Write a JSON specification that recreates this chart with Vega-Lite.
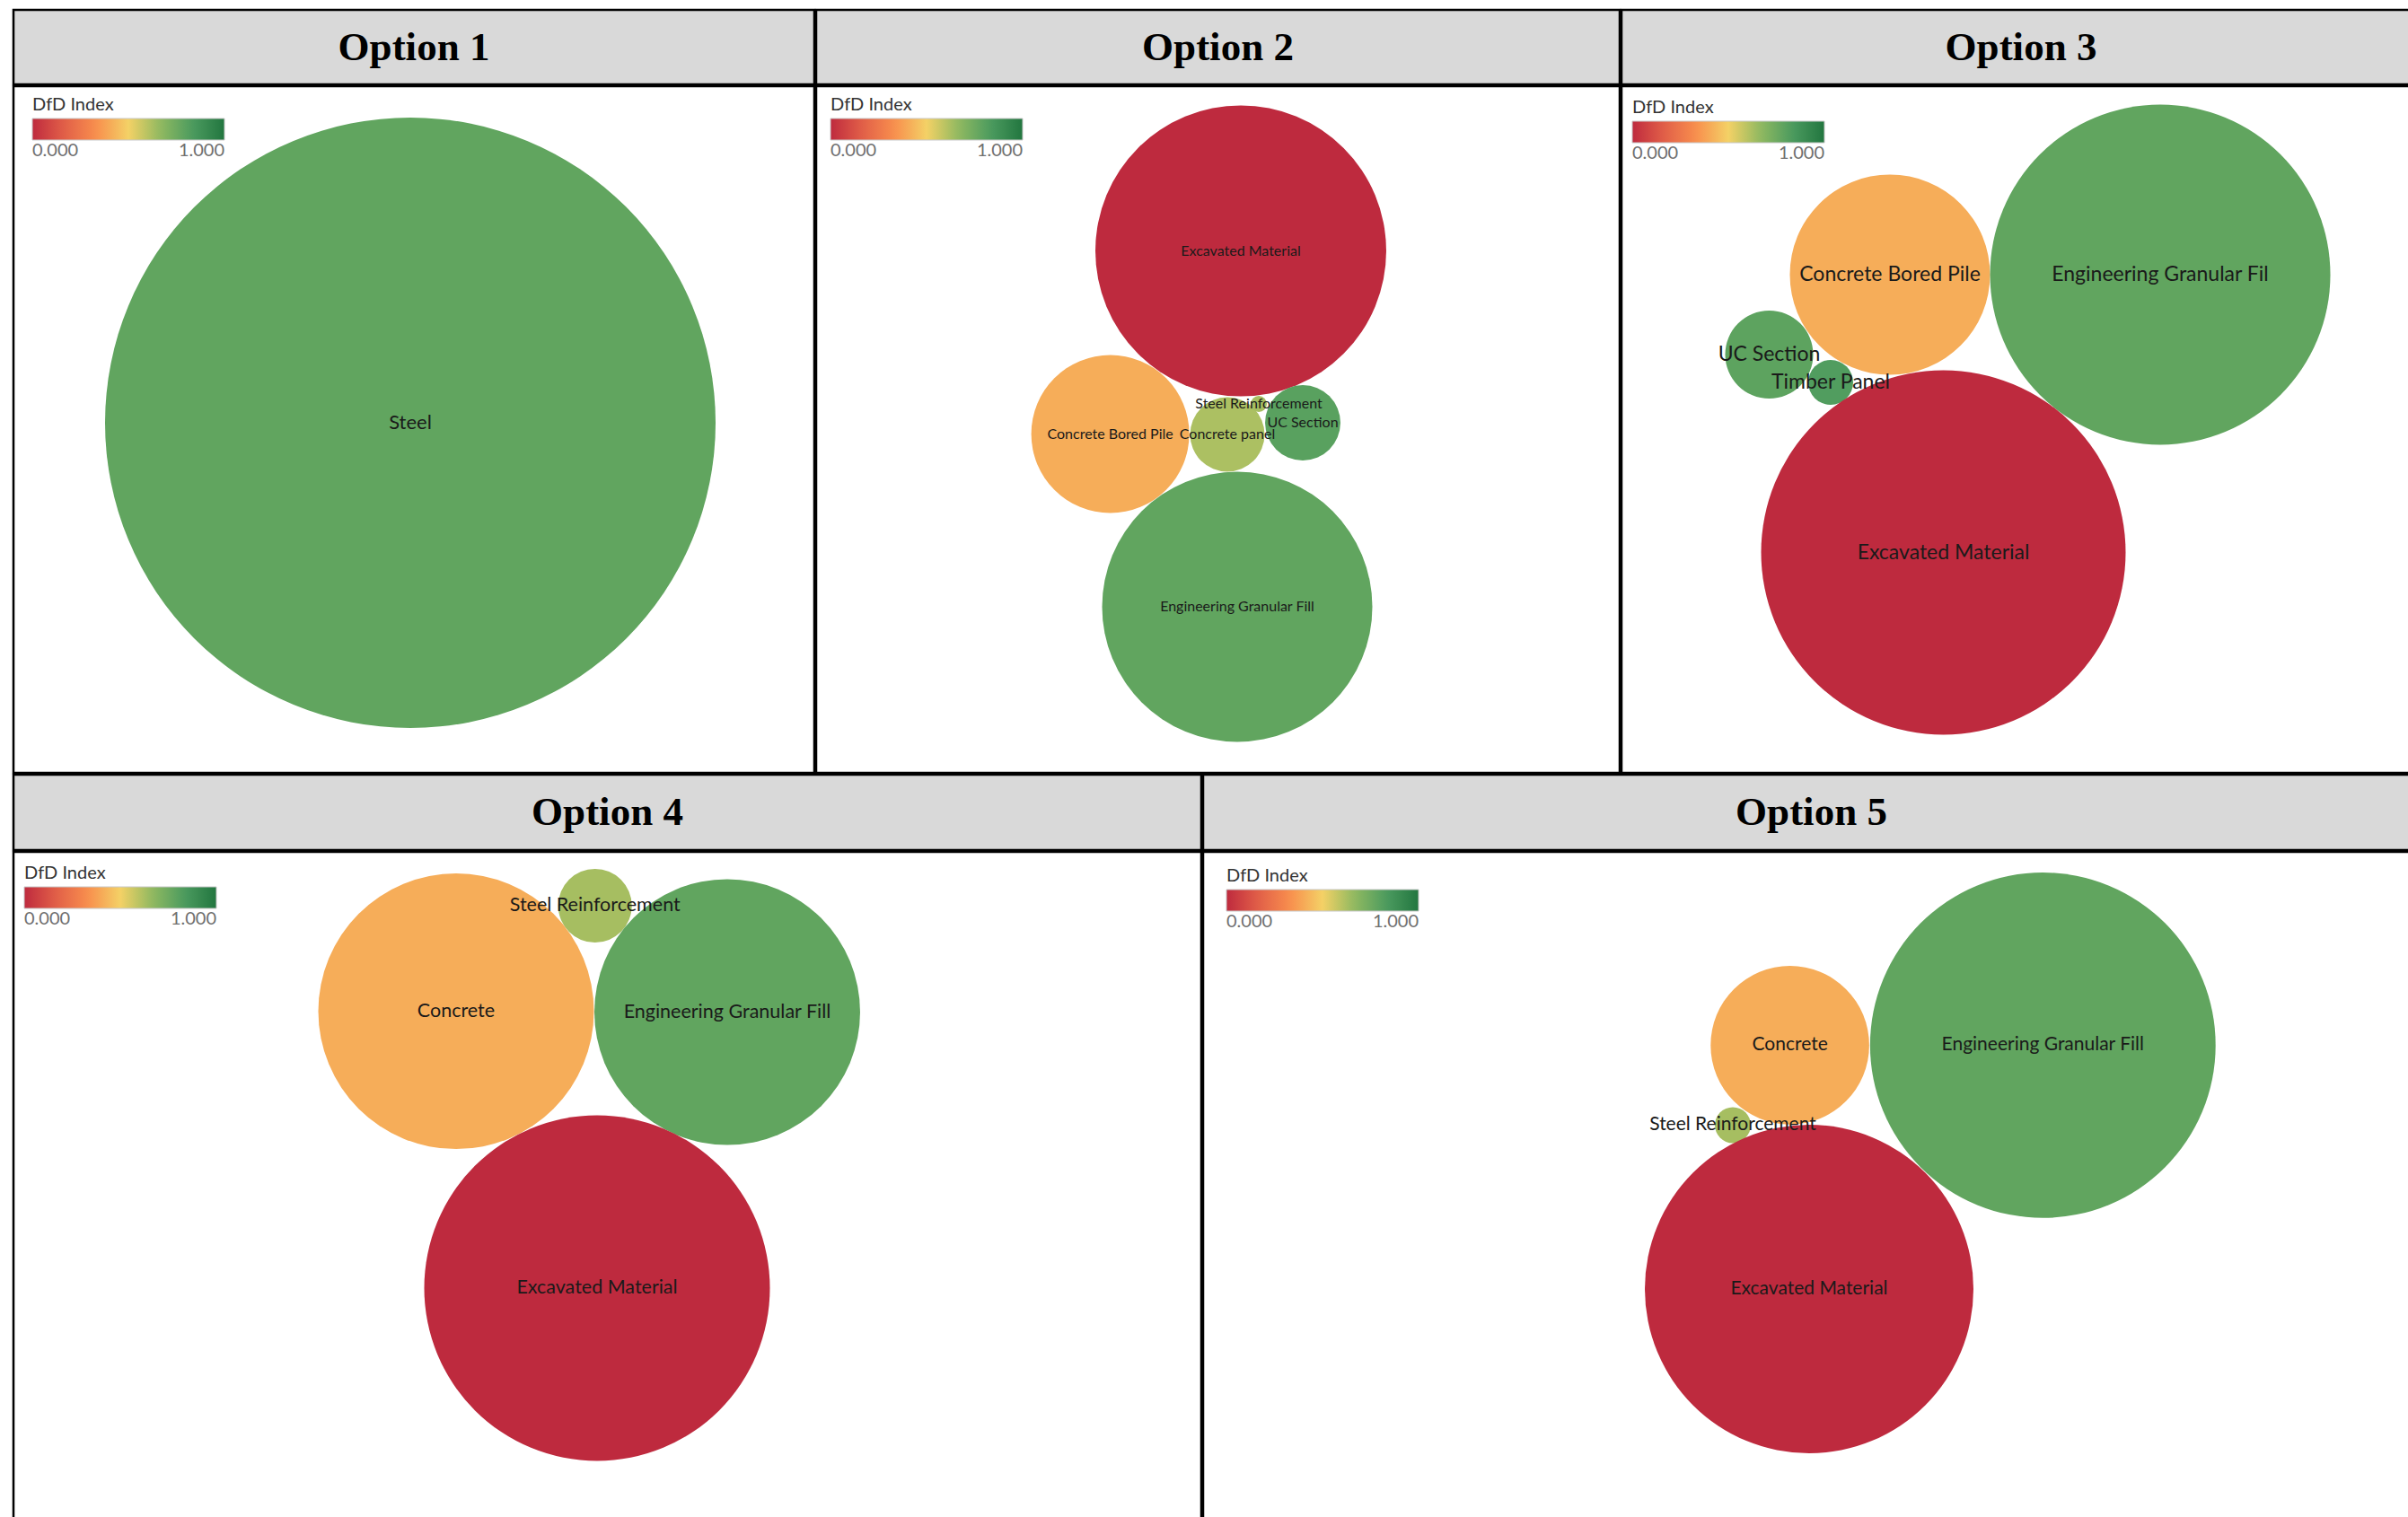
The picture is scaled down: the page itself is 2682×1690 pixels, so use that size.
{
  "$schema": "https://vega.github.io/schema/vega-lite/v6.json",
  "padding": {"left": 13, "top": 9, "right": 0, "bottom": 0},
  "background": "white",
  "datasets": {
    "bubbles": [
      {"option": "Option 1", "material": "Steel", "cx": 442, "cy": 375, "value": 1156, "dfd": 0.78},

      {"option": "Option 2", "material": "Excavated Material", "cx": 473, "cy": 183.5, "value": 262.4, "dfd": 0.0},
      {"option": "Option 2", "material": "Concrete Bored Pile", "cx": 327.6, "cy": 387.5, "value": 77.4, "dfd": 0.41},
      {"option": "Option 2", "material": "Concrete panel", "cx": 458, "cy": 388, "value": 17.2, "dfd": 0.62},
      {"option": "Option 2", "material": "Steel Reinforcement", "cx": 493, "cy": 354, "value": 0.81, "dfd": 0.63},
      {"option": "Option 2", "material": "UC Section", "cx": 542, "cy": 375, "value": 17.6, "dfd": 0.8},
      {"option": "Option 2", "material": "Engineering Granular Fill", "cx": 469, "cy": 580, "value": 226.5, "dfd": 0.78},

      {"option": "Option 3", "material": "Concrete Bored Pile", "cx": 299, "cy": 210, "value": 124.3, "dfd": 0.41},
      {"option": "Option 3", "material": "Engineering Granular Fil", "cx": 600, "cy": 210, "value": 359.1, "dfd": 0.78},
      {"option": "Option 3", "material": "UC Section", "cx": 164.5, "cy": 299, "value": 24.0, "dfd": 0.79},
      {"option": "Option 3", "material": "Timber Panel", "cx": 233, "cy": 330, "value": 6.25, "dfd": 0.82},
      {"option": "Option 3", "material": "Excavated Material", "cx": 358.5, "cy": 519.5, "value": 412.1, "dfd": 0.0},

      {"option": "Option 4", "material": "Steel Reinforcement", "cx": 647.7, "cy": 60, "value": 16.8, "dfd": 0.63},
      {"option": "Option 4", "material": "Concrete", "cx": 493, "cy": 177.6, "value": 235.6, "dfd": 0.41},
      {"option": "Option 4", "material": "Engineering Granular Fill", "cx": 795, "cy": 178.5, "value": 219.0, "dfd": 0.78},
      {"option": "Option 4", "material": "Excavated Material", "cx": 650, "cy": 486, "value": 370.6, "dfd": 0.0},

      {"option": "Option 5", "material": "Concrete", "cx": 653.6, "cy": 215.4, "value": 78.0, "dfd": 0.41},
      {"option": "Option 5", "material": "Engineering Granular Fill", "cx": 935.3, "cy": 215.4, "value": 370.2, "dfd": 0.78},
      {"option": "Option 5", "material": "Steel Reinforcement", "cx": 590, "cy": 304.4, "value": 4.0, "dfd": 0.63},
      {"option": "Option 5", "material": "Excavated Material", "cx": 675, "cy": 487, "value": 334.9, "dfd": 0.0}
    ]
  },
  "spacing": -4,
  "resolve": {"scale": {"color": "independent", "size": "independent"}, "legend": {"color": "independent", "size": "independent"}},
  "vconcat": [
    {
      "spacing": -4,
      "resolve": {"scale": {"color": "independent", "size": "independent"}, "legend": {"color": "independent", "size": "independent"}},
      "hconcat": [
        {
          "spacing": -4,
          "resolve": {"scale": {"color": "independent", "size": "independent"}, "legend": {"color": "independent"}},
          "vconcat": [
            {
              "width": 892, "height": 83,
              "view": {"fill": "#d9d9d9", "stroke": "#000000", "strokeWidth": 2.5},
              "data": {"values": [{"option": "Option 1"}]},
              "mark": {"type": "text", "font": "Liberation Serif", "fontWeight": "bold", "fontSize": 45, "color": "#000000", "baseline": "middle"},
              "encoding": {"text": {"field": "option"}}
            },
            {
              "width": 892, "height": 765,
              "view": {"stroke": "#000000", "strokeWidth": 2.5},
              "data": {"name": "bubbles"},
              "transform": [{"filter": "datum.option === 'Option 1'"}],
              "encoding": {
                "x": {"field": "cx", "type": "quantitative", "scale": {"domain": [0, 892], "nice": false, "zero": false}, "axis": null},
                "y": {"field": "cy", "type": "quantitative", "scale": {"domain": [0, 765], "nice": false, "zero": false, "reverse": true}, "axis": null}
              },
              "layer": [
                {
                  "mark": {"type": "point", "shape": "circle", "filled": true, "opacity": 1, "strokeWidth": 0},
                  "encoding": {
                    "size": {"field": "value", "type": "quantitative", "scale": {"type": "linear", "domain": [0, 1200], "range": [0, 480000], "zero": true}, "legend": null},
                    "color": {"field": "dfd", "type": "quantitative",
                      "scale": {"domain": [0, 0.1667, 0.3333, 0.5, 0.6667, 0.8333, 1], "range": ["#be2a3e", "#e25f48", "#f88f4d", "#f4d166", "#90b960", "#4b9b5f", "#22763f"], "interpolate": "rgb"},
                      "legend": {"orient": "none", "legendX": 21, "legendY": 11, "direction": "horizontal", "title": "DfD Index", "values": [0, 1], "format": ".3f"}}
                  }
                },
                {
                  "mark": {"type": "text", "font": "Lato", "fontSize": 22, "color": "#1a1a1a", "align": "center", "baseline": "middle"},
                  "encoding": {"text": {"field": "material"}}
                }
              ]
            }
          ]
        },
        {
          "spacing": -4,
          "resolve": {"scale": {"color": "independent", "size": "independent"}, "legend": {"color": "independent"}},
          "vconcat": [
            {
              "width": 895, "height": 83,
              "view": {"fill": "#d9d9d9", "stroke": "#000000", "strokeWidth": 2.5},
              "data": {"values": [{"option": "Option 2"}]},
              "mark": {"type": "text", "font": "Liberation Serif", "fontWeight": "bold", "fontSize": 45, "color": "#000000", "baseline": "middle"},
              "encoding": {"text": {"field": "option"}}
            },
            {
              "width": 895, "height": 765,
              "view": {"stroke": "#000000", "strokeWidth": 2.5},
              "data": {"name": "bubbles"},
              "transform": [{"filter": "datum.option === 'Option 2'"}],
              "encoding": {
                "x": {"field": "cx", "type": "quantitative", "scale": {"domain": [0, 895], "nice": false, "zero": false}, "axis": null},
                "y": {"field": "cy", "type": "quantitative", "scale": {"domain": [0, 765], "nice": false, "zero": false, "reverse": true}, "axis": null}
              },
              "layer": [
                {
                  "mark": {"type": "point", "shape": "circle", "filled": true, "opacity": 1, "strokeWidth": 0},
                  "encoding": {
                    "size": {"field": "value", "type": "quantitative", "scale": {"type": "linear", "domain": [0, 1200], "range": [0, 480000], "zero": true}, "legend": null},
                    "color": {"field": "dfd", "type": "quantitative",
                      "scale": {"domain": [0, 0.1667, 0.3333, 0.5, 0.6667, 0.8333, 1], "range": ["#be2a3e", "#e25f48", "#f88f4d", "#f4d166", "#90b960", "#4b9b5f", "#22763f"], "interpolate": "rgb"},
                      "legend": {"orient": "none", "legendX": 16, "legendY": 11, "direction": "horizontal", "title": "DfD Index", "values": [0, 1], "format": ".3f"}}
                  }
                },
                {
                  "mark": {"type": "text", "font": "Lato", "fontSize": 16, "color": "#1a1a1a", "align": "center", "baseline": "middle"},
                  "encoding": {"text": {"field": "material"}}
                }
              ]
            }
          ]
        },
        {
          "spacing": -4,
          "resolve": {"scale": {"color": "independent", "size": "independent"}, "legend": {"color": "independent"}},
          "vconcat": [
            {
              "width": 890, "height": 83,
              "view": {"fill": "#d9d9d9", "stroke": "#000000", "strokeWidth": 2.5},
              "data": {"values": [{"option": "Option 3"}]},
              "mark": {"type": "text", "font": "Liberation Serif", "fontWeight": "bold", "fontSize": 45, "color": "#000000", "baseline": "middle"},
              "encoding": {"text": {"field": "option"}}
            },
            {
              "width": 890, "height": 765,
              "view": {"stroke": "#000000", "strokeWidth": 2.5},
              "data": {"name": "bubbles"},
              "transform": [{"filter": "datum.option === 'Option 3'"}],
              "encoding": {
                "x": {"field": "cx", "type": "quantitative", "scale": {"domain": [0, 890], "nice": false, "zero": false}, "axis": null},
                "y": {"field": "cy", "type": "quantitative", "scale": {"domain": [0, 765], "nice": false, "zero": false, "reverse": true}, "axis": null}
              },
              "layer": [
                {
                  "mark": {"type": "point", "shape": "circle", "filled": true, "opacity": 1, "strokeWidth": 0},
                  "encoding": {
                    "size": {"field": "value", "type": "quantitative", "scale": {"type": "linear", "domain": [0, 1200], "range": [0, 480000], "zero": true}, "legend": null},
                    "color": {"field": "dfd", "type": "quantitative",
                      "scale": {"domain": [0, 0.1667, 0.3333, 0.5, 0.6667, 0.8333, 1], "range": ["#be2a3e", "#e25f48", "#f88f4d", "#f4d166", "#90b960", "#4b9b5f", "#22763f"], "interpolate": "rgb"},
                      "legend": {"orient": "none", "legendX": 12, "legendY": 14, "direction": "horizontal", "title": "DfD Index", "values": [0, 1], "format": ".3f"}}
                  }
                },
                {
                  "mark": {"type": "text", "font": "Lato", "fontSize": 23, "color": "#1a1a1a", "align": "center", "baseline": "middle"},
                  "encoding": {"text": {"field": "material"}}
                }
              ]
            }
          ]
        }
      ]
    },
    {
      "spacing": -4,
      "resolve": {"scale": {"color": "independent", "size": "independent"}, "legend": {"color": "independent", "size": "independent"}},
      "hconcat": [
        {
          "spacing": -4,
          "resolve": {"scale": {"color": "independent", "size": "independent"}, "legend": {"color": "independent"}},
          "vconcat": [
            {
              "width": 1323, "height": 84,
              "view": {"fill": "#d9d9d9", "stroke": "#000000", "strokeWidth": 2.5},
              "data": {"values": [{"option": "Option 4"}]},
              "mark": {"type": "text", "font": "Liberation Serif", "fontWeight": "bold", "fontSize": 45, "color": "#000000", "baseline": "middle"},
              "encoding": {"text": {"field": "option"}}
            },
            {
              "width": 1323, "height": 760,
              "view": {"stroke": "#000000", "strokeWidth": 2.5},
              "data": {"name": "bubbles"},
              "transform": [{"filter": "datum.option === 'Option 4'"}],
              "encoding": {
                "x": {"field": "cx", "type": "quantitative", "scale": {"domain": [0, 1323], "nice": false, "zero": false}, "axis": null},
                "y": {"field": "cy", "type": "quantitative", "scale": {"domain": [0, 760], "nice": false, "zero": false, "reverse": true}, "axis": null}
              },
              "layer": [
                {
                  "mark": {"type": "point", "shape": "circle", "filled": true, "opacity": 1, "strokeWidth": 0},
                  "encoding": {
                    "size": {"field": "value", "type": "quantitative", "scale": {"type": "linear", "domain": [0, 1200], "range": [0, 480000], "zero": true}, "legend": null},
                    "color": {"field": "dfd", "type": "quantitative",
                      "scale": {"domain": [0, 0.1667, 0.3333, 0.5, 0.6667, 0.8333, 1], "range": ["#be2a3e", "#e25f48", "#f88f4d", "#f4d166", "#90b960", "#4b9b5f", "#22763f"], "interpolate": "rgb"},
                      "legend": {"orient": "none", "legendX": 12, "legendY": 14, "direction": "horizontal", "title": "DfD Index", "values": [0, 1], "format": ".3f"}}
                  }
                },
                {
                  "mark": {"type": "text", "font": "Lato", "fontSize": 21.5, "color": "#1a1a1a", "align": "center", "baseline": "middle"},
                  "encoding": {"text": {"field": "material"}}
                }
              ]
            }
          ]
        },
        {
          "spacing": -4,
          "resolve": {"scale": {"color": "independent", "size": "independent"}, "legend": {"color": "independent"}},
          "vconcat": [
            {
              "width": 1355, "height": 84,
              "view": {"fill": "#d9d9d9", "stroke": "#000000", "strokeWidth": 2.5},
              "data": {"values": [{"option": "Option 5"}]},
              "mark": {"type": "text", "font": "Liberation Serif", "fontWeight": "bold", "fontSize": 45, "color": "#000000", "baseline": "middle"},
              "encoding": {"text": {"field": "option"}}
            },
            {
              "width": 1355, "height": 760,
              "view": {"stroke": "#000000", "strokeWidth": 2.5},
              "data": {"name": "bubbles"},
              "transform": [{"filter": "datum.option === 'Option 5'"}],
              "encoding": {
                "x": {"field": "cx", "type": "quantitative", "scale": {"domain": [0, 1355], "nice": false, "zero": false}, "axis": null},
                "y": {"field": "cy", "type": "quantitative", "scale": {"domain": [0, 760], "nice": false, "zero": false, "reverse": true}, "axis": null}
              },
              "layer": [
                {
                  "mark": {"type": "point", "shape": "circle", "filled": true, "opacity": 1, "strokeWidth": 0},
                  "encoding": {
                    "size": {"field": "value", "type": "quantitative", "scale": {"type": "linear", "domain": [0, 1200], "range": [0, 480000], "zero": true}, "legend": null},
                    "color": {"field": "dfd", "type": "quantitative",
                      "scale": {"domain": [0, 0.1667, 0.3333, 0.5, 0.6667, 0.8333, 1], "range": ["#be2a3e", "#e25f48", "#f88f4d", "#f4d166", "#90b960", "#4b9b5f", "#22763f"], "interpolate": "rgb"},
                      "legend": {"orient": "none", "legendX": 26, "legendY": 17, "direction": "horizontal", "title": "DfD Index", "values": [0, 1], "format": ".3f"}}
                  }
                },
                {
                  "mark": {"type": "text", "font": "Lato", "fontSize": 21, "color": "#1a1a1a", "align": "center", "baseline": "middle"},
                  "encoding": {"text": {"field": "material"}}
                }
              ]
            }
          ]
        }
      ]
    }
  ],
  "config": {
    "legend": {
      "padding": 0,
      "gradientLength": 214,
      "gradientThickness": 24,
      "gradientStrokeColor": "#c8c8c8",
      "gradientStrokeWidth": 1,
      "titleFont": "Lato",
      "titleFontSize": 20,
      "titleFontWeight": "normal",
      "titleColor": "#333333",
      "titlePadding": 5,
      "labelFont": "Lato",
      "labelFontSize": 20,
      "labelColor": "#707070",
      "labelOffset": 8
    }
  }
}
